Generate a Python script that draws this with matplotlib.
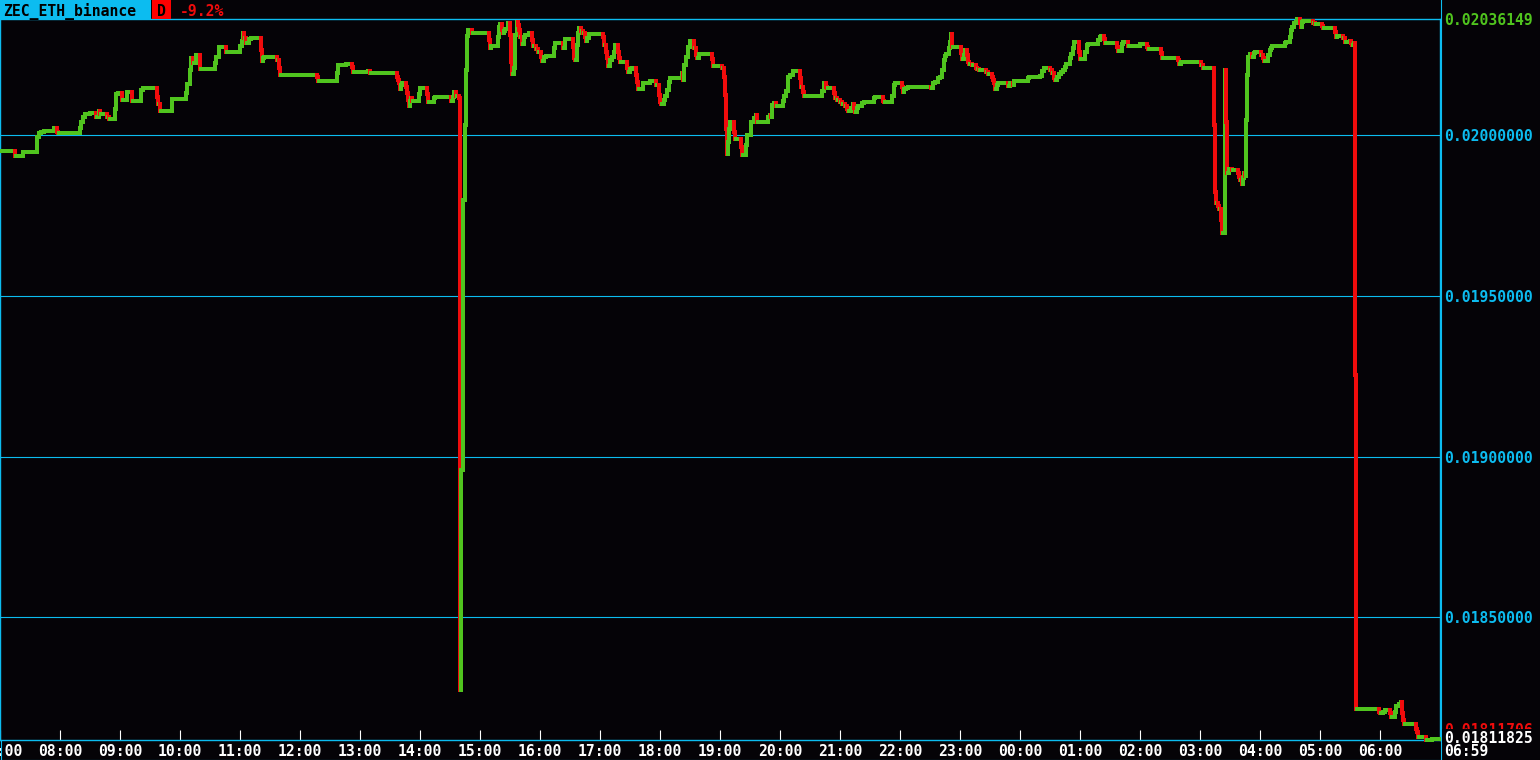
import matplotlib
matplotlib.use('Agg')
import matplotlib.pyplot as plt
from matplotlib.collections import LineCollection
from matplotlib.patches import Rectangle
from matplotlib.lines import Line2D

# ---- data (minute closes, only the minutes where the price changed) ----
symbol = 'ZEC_ETH_binance'
change_txt = '-9.2%'
minutes = [
    0, 15, 23, 37, 39, 41, 44, 54, 57, 58, 80, 81, 83, 85, 90, 96, 99, 100, 107, 109,
    115, 116, 118, 122, 127, 132, 141, 143, 157, 158, 160, 172, 186, 187, 190, 191, 193, 196, 200, 215,
    216, 219, 226, 240, 242, 243, 244, 246, 249, 251, 261, 262, 263, 264, 277, 279, 280, 317, 318, 337,
    338, 346, 352, 353, 368, 370, 397, 398, 399, 400, 401, 402, 406, 407, 408, 409, 410, 411, 412, 419,
    420, 427, 428, 434, 435, 451, 453, 454, 456, 459, 460, 461, 463, 465, 466, 467, 468, 472, 489, 490,
    491, 498, 499, 500, 502, 503, 504, 505, 508, 510, 511, 512, 514, 515, 517, 518, 519, 520, 522, 524,
    525, 529, 532, 533, 536, 538, 541, 542, 544, 546, 554, 555, 563, 565, 573, 574, 575, 577, 578, 579,
    581, 583, 585, 586, 587, 589, 603, 604, 606, 607, 608, 610, 612, 614, 615, 618, 619, 620, 627, 628,
    630, 632, 636, 637, 638, 643, 650, 656, 659, 660, 661, 664, 665, 667, 669, 670, 682, 683, 684, 686,
    688, 690, 694, 696, 697, 699, 712, 713, 722, 724, 725, 726, 727, 728, 729, 730, 734, 735, 741, 742,
    746, 747, 751, 754, 756, 757, 768, 770, 771, 772, 774, 776, 783, 784, 786, 788, 790, 793, 800, 801,
    803, 804, 822, 824, 826, 827, 834, 835, 837, 840, 842, 845, 847, 848, 851, 853, 854, 855, 857, 858,
    862, 864, 874, 875, 883, 884, 892, 894, 895, 902, 903, 904, 906, 908, 931, 933, 935, 938, 940, 942,
    944, 945, 946, 949, 950, 951, 952, 961, 962, 964, 965, 967, 968, 969, 972, 976, 977, 979, 986, 988,
    992, 993, 994, 995, 997, 998, 1008, 1010, 1013, 1014, 1028, 1029, 1040, 1042, 1044, 1050, 1052, 1054, 1055, 1057,
    1059, 1061, 1063, 1065, 1066, 1070, 1071, 1073, 1074, 1079, 1080, 1085, 1087, 1088, 1098, 1100, 1101, 1104, 1105, 1117,
    1118, 1122, 1123, 1128, 1140, 1147, 1148, 1161, 1162, 1178, 1179, 1181, 1201, 1203, 1214, 1215, 1216, 1218, 1219, 1221,
    1222, 1225, 1226, 1227, 1229, 1232, 1238, 1239, 1240, 1242, 1243, 1244, 1245, 1246, 1247, 1248, 1250, 1252, 1254, 1255,
    1261, 1263, 1264, 1268, 1270, 1271, 1272, 1285, 1286, 1290, 1291, 1292, 1294, 1296, 1297, 1300, 1301, 1302, 1303, 1313,
    1315, 1322, 1323, 1335, 1336, 1337, 1343, 1345, 1347, 1350, 1351, 1352, 1354, 1355, 1356, 1379, 1380, 1383, 1385, 1390,
    1391, 1395, 1396, 1399, 1401, 1402, 1403, 1404, 1416, 1417, 1418, 1426, 1432,
]
closes = [
    0.0199512, 0.0199356, 0.0199471, 0.0199938, 0.0200053, 0.0200109, 0.0200134, 0.0200227, 0.0200103, 0.0200072,
    0.0200218, 0.0200414, 0.0200560, 0.0200653, 0.0200694, 0.0200569, 0.0200747, 0.0200653, 0.0200569, 0.0200498,
    0.0200809, 0.0201276, 0.0201297, 0.0201089, 0.0201347, 0.0201067, 0.0201400, 0.0201453, 0.0201192, 0.0200965,
    0.0200756, 0.0201120, 0.0201307, 0.0201587, 0.0202022, 0.0202386, 0.0202240, 0.0202489, 0.0202044, 0.0202231,
    0.0202427, 0.0202729, 0.0202592, 0.0202769, 0.0202934, 0.0203164, 0.0203018, 0.0202872, 0.0202978, 0.0203034,
    0.0202645, 0.0202302, 0.0202405, 0.0202436, 0.0202333, 0.0202094, 0.0201867, 0.0201795, 0.0201689, 0.0201920,
    0.0202178, 0.0202209, 0.0202125, 0.0201969, 0.0202001, 0.0201938, 0.0201814, 0.0201711, 0.0201609, 0.0201431,
    0.0201556, 0.0201609, 0.0201503, 0.0201297, 0.0201089, 0.0200912, 0.0201058, 0.0201142, 0.0201058, 0.0201266,
    0.0201472, 0.0201266, 0.0201036, 0.0201142, 0.0201192, 0.0201058, 0.0201192, 0.0201329, 0.0201223, 0.0201142,
    0.0182732, 0.0189577, 0.0197978, 0.0200311, 0.0202022, 0.0203080, 0.0203267, 0.0203164, 0.0202956, 0.0202698,
    0.0202778, 0.0203058, 0.0203370, 0.0203444, 0.0203267, 0.0203164, 0.0203236, 0.0203298, 0.0203506, 0.0203111,
    0.0202281, 0.0201889, 0.0202075, 0.0203111, 0.0203525, 0.0203422, 0.0203267, 0.0203058, 0.0202831, 0.0203058,
    0.0203111, 0.0203164, 0.0202956, 0.0202778, 0.0202676, 0.0202592, 0.0202436, 0.0202302, 0.0202436, 0.0202467,
    0.0202698, 0.0202862, 0.0202698, 0.0202987, 0.0202747, 0.0202386, 0.0202333, 0.0202800, 0.0203164, 0.0203338,
    0.0203236, 0.0203164, 0.0203058, 0.0202925, 0.0203027, 0.0203142, 0.0203058, 0.0202800, 0.0202592, 0.0202386,
    0.0202156, 0.0202333, 0.0202436, 0.0202592, 0.0202800, 0.0202592, 0.0202386, 0.0202281, 0.0202094, 0.0201969,
    0.0202053, 0.0202075, 0.0201867, 0.0201658, 0.0201431, 0.0201609, 0.0201689, 0.0201556, 0.0201245, 0.0201036,
    0.0200955, 0.0201089, 0.0201223, 0.0201400, 0.0201658, 0.0201764, 0.0201920, 0.0201711, 0.0202178, 0.0202436,
    0.0202747, 0.0202934, 0.0202698, 0.0202489, 0.0202386, 0.0202520, 0.0202365, 0.0202156, 0.0202075, 0.0201814,
    0.0201245, 0.0200208, 0.0199400, 0.0199792, 0.0200208, 0.0200414, 0.0200103, 0.0199876, 0.0199636, 0.0199378,
    0.0199689, 0.0200000, 0.0200414, 0.0200520, 0.0200622, 0.0200414, 0.0200569, 0.0200622, 0.0200560, 0.0200933,
    0.0200986, 0.0200912, 0.0201058, 0.0201223, 0.0201369, 0.0201814, 0.0201867, 0.0202001, 0.0201764, 0.0201503,
    0.0201347, 0.0201223, 0.0201369, 0.0201609, 0.0201503, 0.0201453, 0.0201297, 0.0201142, 0.0201089, 0.0201017,
    0.0200955, 0.0200912, 0.0200809, 0.0200747, 0.0200849, 0.0200965, 0.0200831, 0.0200706, 0.0200849, 0.0200912,
    0.0200986, 0.0201036, 0.0201142, 0.0201173, 0.0201058, 0.0201017, 0.0201223, 0.0201556, 0.0201627, 0.0201503,
    0.0201347, 0.0201431, 0.0201472, 0.0201503, 0.0201472, 0.0201609, 0.0201658, 0.0201764, 0.0201814, 0.0202022,
    0.0202333, 0.0202467, 0.0202511, 0.0202698, 0.0202903, 0.0203133, 0.0202747, 0.0202542, 0.0202355, 0.0202489,
    0.0202645, 0.0202489, 0.0202281, 0.0202200, 0.0202178, 0.0202094, 0.0202053, 0.0202022, 0.0201969, 0.0201907,
    0.0201814, 0.0201711, 0.0201609, 0.0201431, 0.0201556, 0.0201609, 0.0201534, 0.0201609, 0.0201571, 0.0201680,
    0.0201764, 0.0201795, 0.0201845, 0.0201991, 0.0202094, 0.0202022, 0.0201920, 0.0201764, 0.0201702, 0.0201814,
    0.0201889, 0.0201969, 0.0202022, 0.0202125, 0.0202200, 0.0202386, 0.0202511, 0.0202698, 0.0202903, 0.0202592,
    0.0202365, 0.0202592, 0.0202800, 0.0202841, 0.0202956, 0.0203058, 0.0203089, 0.0202987, 0.0202872, 0.0202747,
    0.0202613, 0.0202822, 0.0202903, 0.0202778, 0.0202841, 0.0202747, 0.0202666, 0.0202542, 0.0202405, 0.0202333,
    0.0202200, 0.0202281, 0.0202178, 0.0202075, 0.0200311, 0.0198236, 0.0197875, 0.0197791, 0.0197719, 0.0197355,
    0.0196942, 0.0202022, 0.0200404, 0.0198808, 0.0198933, 0.0198911, 0.0198808, 0.0198703, 0.0198600, 0.0198475,
    0.0198653, 0.0198808, 0.0198724, 0.0200467, 0.0201867, 0.0202436, 0.0202511, 0.0202436, 0.0202542, 0.0202592,
    0.0202489, 0.0202386, 0.0202302, 0.0202489, 0.0202645, 0.0202716, 0.0202769, 0.0202853, 0.0202903, 0.0203058,
    0.0203267, 0.0203370, 0.0203475, 0.0203525, 0.02036149, 0.0203475, 0.0203370, 0.0203525, 0.0203556, 0.0203475,
    0.0203454, 0.0203391, 0.0203320, 0.0203214, 0.0203058, 0.0203089, 0.0203009, 0.0202884, 0.0202903, 0.0202925,
    0.0202853, 0.0202800, 0.0202853, 0.0192533, 0.0182162, 0.0182057, 0.0182007, 0.0182057, 0.0182110, 0.0182038,
    0.0181902, 0.0182057, 0.0182234, 0.0182318, 0.0182359, 0.0182007, 0.0181799, 0.0181665, 0.0181540, 0.0181435,
    0.0181279, 0.01811825, 0.0181229,
]
price_ticks = [0.0185, 0.0190, 0.0195, 0.0200]
hour_ticks = [0, 60, 120, 180, 240, 300, 360, 420, 480, 540, 600, 660,
              720, 780, 840, 900, 960, 1020, 1080, 1140, 1200, 1260, 1320, 1380]
hour_labels = ['07:00', '08:00', '09:00', '10:00', '11:00', '12:00', '13:00', '14:00',
               '15:00', '16:00', '17:00', '18:00', '19:00', '20:00', '21:00', '22:00',
               '23:00', '00:00', '01:00', '02:00', '03:00', '04:00', '05:00', '06:00']
price_high = 0.02036149
price_low = 0.01811825
last_price = 0.01811706
last_time = '06:59'
n_minutes = 1440

# ---- style ----
BG = '#050307'
CYAN = '#0cbcf0'
GREEN = '#50c41e'
RED = '#f00c0c'
FONT = dict(family='DejaVu Sans Mono', weight='bold', size=10.6)

W, H = 1540, 760


def fx(x):
    return x / W


def fy(y):
    return 1 - y / H


fig = plt.figure(figsize=(W / 100, H / 100), dpi=100, facecolor=BG)
ax = fig.add_axes([0, fy(740), fx(1440), (740 - 19) / H])
ax.set_facecolor(BG)

# build the step line: rising/flat = green, falling minute = red
segs, cols = [], []
for k in range(len(minutes)):
    t, p = minutes[k], closes[k]
    t_next = minutes[k + 1] if k + 1 < len(minutes) else n_minutes
    down = False
    if k > 0:
        prev = closes[k - 1]
        down = p < prev
        segs.append([(t, prev), (t, p)])
        cols.append(RED if down else GREEN)
    if down:
        segs.append([(t, p), (t + 1, p)])
        cols.append(RED)
        if t_next > t + 1:
            segs.append([(t + 1, p), (t_next, p)])
            cols.append(GREEN)
    else:
        segs.append([(t, p), (t_next, p)])
        cols.append(GREEN)

lc = LineCollection(segs, colors=cols, linewidths=1.5, capstyle='projecting',
                    antialiaseds=False, zorder=3, clip_on=False)
ax.add_collection(lc)

ax.set_xlim(0, n_minutes)
ax.set_ylim(price_low, price_high)

for s in ax.spines.values():
    s.set_color(CYAN)
    s.set_linewidth(1.0)

ax.grid(axis='y', color=CYAN, linewidth=0.8)
ax.set_yticks(price_ticks)
ax.set_yticklabels(['%.8f' % v for v in price_ticks], **FONT)
ax.yaxis.tick_right()
ax.tick_params(axis='y', length=0, pad=3, labelcolor=CYAN)

ax.set_xticks(hour_ticks)
ax.set_xticklabels(hour_labels, **FONT)
ax.tick_params(axis='x', direction='in', length=7.2, width=0.8, color='white',
               labelcolor='white', pad=3)

# right price panel extra labels
ax.text(1.0028, price_high, '%.8f' % price_high, transform=ax.get_yaxis_transform(),
        color=GREEN, va='center_baseline', ha='left', clip_on=False, **FONT)
fig.text(fx(1444), fy(729), '%.8f' % last_price, color=RED, va='center_baseline',
         ha='left', zorder=5, **FONT)
fig.patches.append(Rectangle((fx(1442), fy(743)), fx(96), 14.5 / H, transform=fig.transFigure,
                             facecolor=BG, edgecolor='none', zorder=6))
fig.text(fx(1444), fy(737), '%.8f' % price_low, color='white', va='center_baseline',
         ha='left', zorder=7, **FONT)
fig.text(fx(1444), fy(750), last_time, color='white', va='center_baseline', ha='left',
         zorder=7, **FONT)

# frame lines around the panels
fig.add_artist(Line2D([fx(1440.5)] * 2, [0, 1], color=CYAN, lw=0.8, transform=fig.transFigure))
fig.add_artist(Line2D([0, fx(1440.5)], [fy(759.5)] * 2, color=CYAN, lw=0.8, transform=fig.transFigure))
fig.add_artist(Line2D([fx(0.5)] * 2, [fy(740), fy(760)], color=CYAN, lw=0.8, transform=fig.transFigure))

# header
fig.patches.append(Rectangle((0, fy(19)), fx(151), 19 / H, transform=fig.transFigure,
                             facecolor=CYAN, edgecolor='none'))
fig.patches.append(Rectangle((fx(152), fy(19)), fx(19), 19 / H, transform=fig.transFigure,
                             facecolor='#ff0000', edgecolor='none'))
fig.text(fx(3), fy(10), symbol, color='black', va='center_baseline', ha='left', **FONT)
fig.text(fx(161.5), fy(10), 'D', color='black', va='center_baseline', ha='center', **FONT)
fig.text(fx(180), fy(10), change_txt, color=RED, va='center_baseline', ha='left', **FONT)

fig.savefig('out.png', dpi=100, facecolor=BG)
